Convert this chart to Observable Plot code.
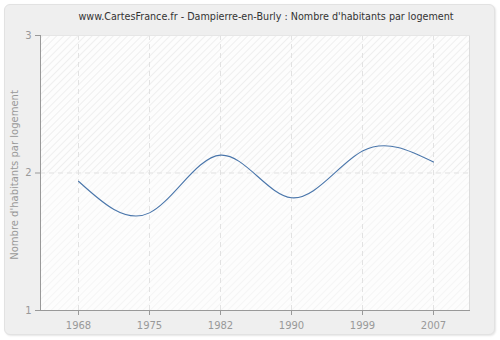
<!DOCTYPE html>
<html>
<head>
<meta charset="utf-8">
<script src="https://cdn.jsdelivr.net/npm/d3@7"></script>
<script src="https://cdn.jsdelivr.net/npm/@observablehq/plot@0.6"></script>
<style>
  html, body { margin: 0; padding: 0; background: #ffffff; }
  #wrap { position: relative; width: 500px; height: 340px; font-family: "DejaVu Sans", Verdana, sans-serif; }
  #panel { position: absolute; left: 4px; top: 4px; width: 489px; height: 329px; background: #efefef; border: 1px solid #e2e2e2; border-radius: 6px; box-shadow: 1px 1px 2px #e6e6e6; }
  #title { position: absolute; left: 0; top: 11px; width: 532px; text-align: center; font-size: 9.6px; color: #333; }
  #chart { position: absolute; left: 0; top: 0; }
</style>
</head>
<body>
<div id="wrap">
  <div id="panel"></div>
  <div id="title">www.CartesFrance.fr - Dampierre-en-Burly : Nombre d'habitants par logement</div>
  <div id="chart"></div>
</div>
<script>
const years = ["1968", "1975", "1982", "1990", "1999", "2007"];
const values = [1.94, 1.71, 2.13, 1.82, 2.16, 2.08];
const yTicks = [1, 2, 3];
const yLabel = "Nombre d'habitants par logement";

const data = years.map((year, i) => ({year, value: values[i]}));

const plot = Plot.plot({
  width: 500,
  height: 340,
  marginLeft: 40,
  marginRight: 30,
  marginTop: 35,
  marginBottom: 30,
  style: {background: "transparent", fontFamily: "DejaVu Sans, Verdana, sans-serif", fontSize: "10px", color: "#888"},
  x: {type: "point", domain: years, padding: 0.5, label: null},
  y: {domain: [1, 3], ticks: yTicks, label: null},
  marks: [
    Plot.rect([0], {y1: 2, y2: 3, fill: "url(#hatchTop)"}),
    Plot.rect([0], {y1: 1, y2: 2, fill: "url(#hatchBottom)"}),
    Plot.ruleX(years, {x: d => d, stroke: "#e2e2e2", strokeDasharray: "5,4"}),
    Plot.ruleY([2], {stroke: "#e2e2e2", strokeDasharray: "5,4"}),
    Plot.rect([0], {y1: 1, y2: 3, fill: "#dcdcdc", insetLeft: 429}),
    Plot.ruleY([3], {stroke: "#e6e6e6"}),
    Plot.line(data, {x: "year", y: "value", curve: "natural", stroke: "#4a76ab", strokeWidth: 1.1}),
    Plot.axisY({ticks: yTicks, tickFormat: d => String(d), tickSize: 5, tickPadding: 4, stroke: "#999", fill: "#999", label: null}),
    Plot.axisX({tickSize: 5, tickPadding: 6, stroke: "#999", fill: "#999", label: null}),
    Plot.rect([0], {y1: 1, y2: 3, fill: "#999", insetRight: 429}),
    Plot.ruleY([1], {stroke: "#999"}),
    Plot.text([yLabel], {frameAnchor: "middle", text: d => d, rotate: -90, dx: -241, dy: 2, fill: "#999", fontSize: 10, textAnchor: "middle"})
  ]
});

// pattern defs
const ns = "http://www.w3.org/2000/svg";
const defs = document.createElementNS(ns, "defs");
defs.innerHTML = `
  <pattern id="hatchTop" patternUnits="userSpaceOnUse" width="5" height="5" patternTransform="rotate(45)">
    <rect width="5" height="5" fill="#fdfdfd"/>
    <line x1="0" y1="0" x2="0" y2="5" stroke="#e9e9e9" stroke-width="1.4"/>
  </pattern>
  <pattern id="hatchBottom" patternUnits="userSpaceOnUse" width="5" height="5" patternTransform="rotate(45)">
    <rect width="5" height="5" fill="#fdfdfd"/>
    <line x1="0" y1="0" x2="0" y2="5" stroke="#f2f2f2" stroke-width="1.4"/>
  </pattern>`;
plot.insertBefore(defs, plot.firstChild);
document.getElementById("chart").appendChild(plot);
</script>
</body>
</html>
